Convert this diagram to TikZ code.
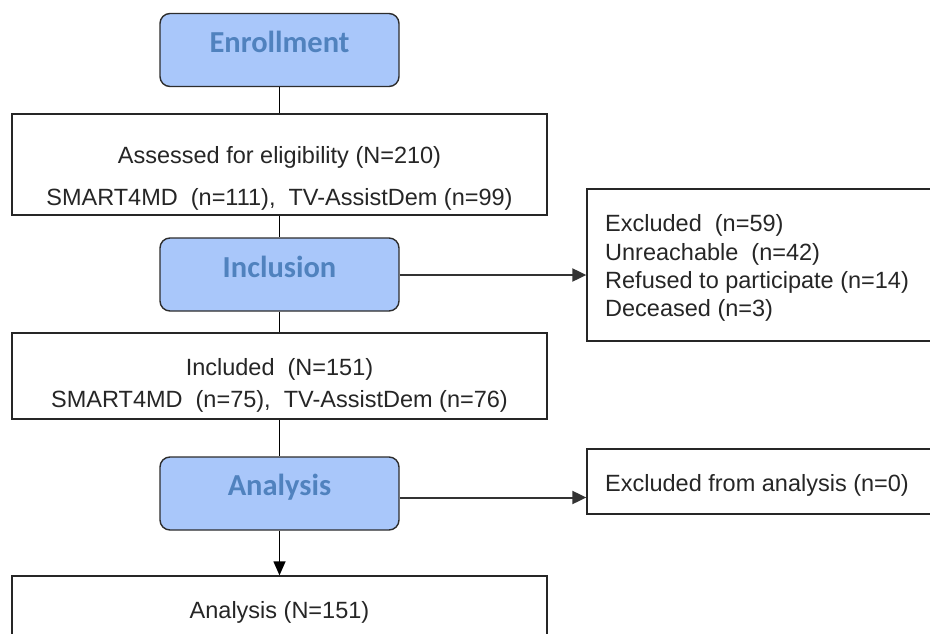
\documentclass[tikz,border=0pt]{standalone}
\usepackage{fontspec}
\setmainfont{Liberation Sans}
\newfontfamily\labelfont{Carlito}
\usetikzlibrary{arrows.meta}
\definecolor{boxblue}{RGB}{169,199,250}
\definecolor{labelblue}{RGB}{80,130,190}
\definecolor{edgegray}{RGB}{45,45,45}
\begin{document}
\begin{tikzpicture}[x=1pt,y=-1pt,
  stage/.style={draw=edgegray, line width=1.4pt, rounded corners=10pt, fill=boxblue, minimum width=239pt, minimum height=73pt, inner sep=0pt},
  infobox/.style={draw=black!85, line width=1.3pt, inner sep=0pt},
  stagetext/.style={font=\labelfont\bfseries\fontsize{30.5}{36}\selectfont, text=labelblue, anchor=base, inner sep=0pt},
  bodytext/.style={font=\fontsize{23.5}{28}\selectfont, text=black!85, anchor=base, inner sep=0pt},
  listtext/.style={font=\fontsize{23.5}{28}\selectfont, text=black!85, anchor=base west, inner sep=0pt},
  link/.style={line width=1.3pt, black},
  sidearrow/.style={line width=2pt, black!80, -{Triangle[length=14pt,width=13pt]}},
  downarrow/.style={line width=1.3pt, black, -{Triangle[length=14pt,width=12pt]}}
]
\useasboundingbox (0,0) rectangle (930,634);
\clip (0,0) rectangle (930,634);
\fill[white] (0,0) rectangle (930,634);

% boxes
\node[stage] (enr) at (279.5,50) {};
\node[infobox, minimum width=535pt, minimum height=101pt] (asd) at (279.5,164.5) {};
\node[stage] (inc) at (279.5,274.5) {};
\node[infobox, minimum width=363pt, minimum height=152pt] (exc) at (768.5,265) {};
\node[infobox, minimum width=535pt, minimum height=86pt] (icd) at (279.5,376) {};
\node[stage] (ana) at (279.5,493.5) {};
\node[infobox, minimum width=363pt, minimum height=65pt] (exa) at (768.5,481.5) {};
\node[infobox, minimum width=535pt, minimum height=124pt] (fin) at (279.5,638) {};

% texts
\node[stagetext] (enrT) at (279.5,53) {Enrollment};
\node[stagetext] (incT) at (279.5,277.5) {Inclusion};
\node[stagetext] (anaT) at (279.5,495) {Analysis};
\node[bodytext] (asdA) at (279.5,163) {Assessed for eligibility (N=210)};
\node[bodytext] (asdB) at (279.5,205) {SMART4MD\ \ (n=111),\ \ TV-AssistDem (n=99)};
\node[bodytext] (icdA) at (279.5,375) {Included\ \ (N=151)};
\node[bodytext] (icdB) at (279.5,407) {SMART4MD\ \ (n=75),\ \ TV-AssistDem (n=76)};
\node[listtext] (exc1) at (605,231) {Excluded\ \ (n=59)};
\node[listtext] (exc2) at (605,260) {Unreachable\ \ (n=42)};
\node[listtext] (exc3) at (605,288) {Refused to participate (n=14)};
\node[listtext] (exc4) at (605,316) {Deceased (n=3)};
\node[listtext] (exaT) at (605,491) {Excluded from analysis (n=0)};
\node[bodytext] (finT) at (279.5,618) {Analysis (N=151)};

% connectors
\draw[link] (enr.south) -- (asd.north);
\draw[link] (asd.south) -- (inc.north);
\draw[link] (inc.south) -- (icd.north);
\draw[link] (icd.south) -- (ana.north);
\draw[downarrow] (ana.south) -- (fin.north);
\coordinate (incR) at ([yshift=-0.5pt]inc.east);
\draw[sidearrow] (incR) -- (incR -| exc.west);
\coordinate (anaR) at ([yshift=-4pt]ana.east);
\draw[sidearrow] (anaR) -- (anaR -| exa.west);
\end{tikzpicture}
\end{document}
